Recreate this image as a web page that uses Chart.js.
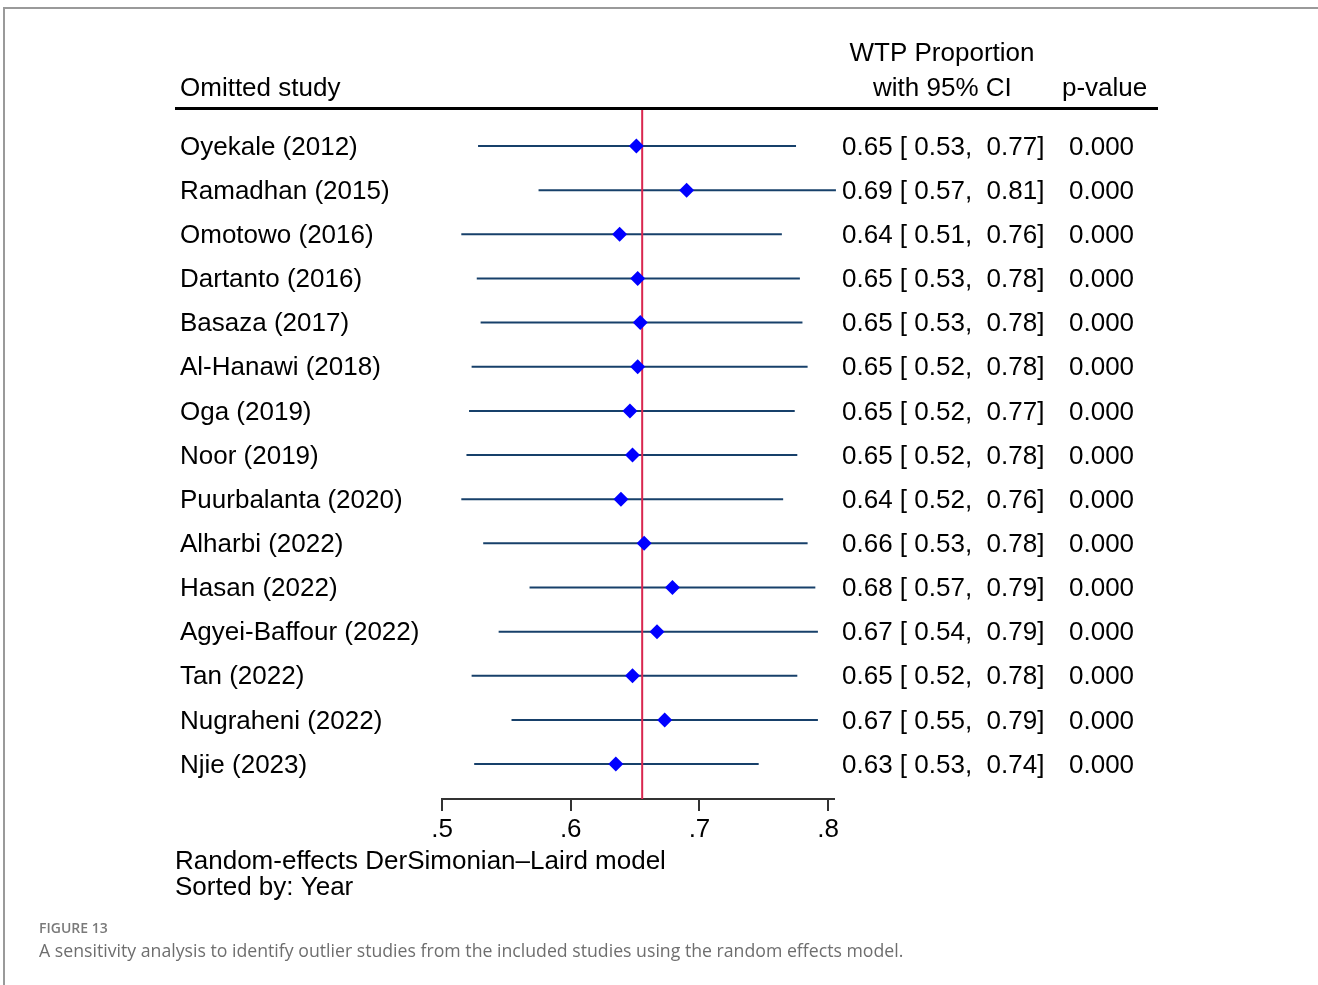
<!DOCTYPE html>
<html>
<head>
<meta charset="utf-8">
<script src="https://cdn.jsdelivr.net/npm/chart.js@4.4.1/dist/chart.umd.min.js"></script>
<style>
  html, body { margin: 0; padding: 0; background: #fff; }
  #wrap { position: relative; width: 1318px; height: 985px; }
  canvas { display: block; }
</style>
</head>
<body>
<div id="wrap"><canvas id="chart" width="1318" height="985"></canvas></div>
<script>
const studies = [
  'Oyekale (2012)', 'Ramadhan (2015)', 'Omotowo (2016)', 'Dartanto (2016)',
  'Basaza (2017)', 'Al-Hanawi (2018)', 'Oga (2019)', 'Noor (2019)',
  'Puurbalanta (2020)', 'Alharbi (2022)', 'Hasan (2022)', 'Agyei-Baffour (2022)',
  'Tan (2022)', 'Nugraheni (2022)', 'Njie (2023)'
];
// point estimates and CI ends
const estimate = [0.651, 0.690, 0.638, 0.652, 0.654, 0.652, 0.646, 0.648, 0.639, 0.657, 0.679, 0.667, 0.648, 0.673, 0.635];
const lower = [0.528, 0.575, 0.515, 0.527, 0.530, 0.523, 0.521, 0.519, 0.515, 0.532, 0.568, 0.544, 0.523, 0.554, 0.525];
const upper = [0.775, 0.806, 0.764, 0.778, 0.780, 0.784, 0.774, 0.776, 0.765, 0.784, 0.790, 0.792, 0.776, 0.792, 0.746];
// printed table columns
const ciText = [
  '0.65 [ 0.53,  0.77]', '0.69 [ 0.57,  0.81]', '0.64 [ 0.51,  0.76]', '0.65 [ 0.53,  0.78]',
  '0.65 [ 0.53,  0.78]', '0.65 [ 0.52,  0.78]', '0.65 [ 0.52,  0.77]', '0.65 [ 0.52,  0.78]',
  '0.64 [ 0.52,  0.76]', '0.66 [ 0.53,  0.78]', '0.68 [ 0.57,  0.79]', '0.67 [ 0.54,  0.79]',
  '0.65 [ 0.52,  0.78]', '0.67 [ 0.55,  0.79]', '0.63 [ 0.53,  0.74]'
];
const pValues = ['0.000', '0.000', '0.000', '0.000', '0.000', '0.000', '0.000', '0.000',
  '0.000', '0.000', '0.000', '0.000', '0.000', '0.000', '0.000'];
const overall = 0.6555;
const xTicks = [0.5, 0.6, 0.7, 0.8];

const FONT = '"Liberation Sans", Arial, sans-serif';
const yMin = -0.86, yMax = 14.79;

const ciSets = studies.map((s, i) => ({
  type: 'line',
  label: s,
  data: [{ x: lower[i], y: i }, { x: upper[i], y: i }],
  borderColor: '#17406a',
  borderWidth: 2,
  pointRadius: 0,
  clip: false,
  order: 2
}));

const ctx = document.getElementById('chart').getContext('2d');

const tablePlugin = {
  id: 'table',
  beforeDraw(chart) {
    const c = chart.ctx;
    c.save();
    c.fillStyle = '#fff';
    c.fillRect(0, 0, chart.width, chart.height);
    // page frame
    c.strokeStyle = '#9a9a9a';
    c.lineWidth = 2;
    c.beginPath();
    c.moveTo(1318, 8); c.lineTo(4, 8); c.lineTo(4, 985);
    c.stroke();
    c.restore();
  },
  afterDraw(chart) {
    const c = chart.ctx;
    const ys = chart.scales.y;
    c.save();
    c.fillStyle = '#000';
    c.textBaseline = 'middle';
    c.font = '26px ' + FONT;
    c.textAlign = 'center';
    c.fillText('WTP Proportion', 942, 54);
    c.textAlign = 'left';
    c.fillText('with 95% CI', 873, 89);
    c.fillText('p-value', 1062, 89);
    c.fillText('Omitted study', 180, 89);
    // header rule
    c.fillRect(175, 107, 983, 3);
    studies.forEach((s, i) => {
      const y = ys.getPixelForValue(i) + 1.5;
      c.fillText(s, 180, y);
      c.fillText(ciText[i], 842, y);
      c.fillText(pValues[i], 1069, y);
    });
    c.fillText('Random-effects DerSimonian\u2013Laird model', 175, 862);
    c.fillText('Sorted by: Year', 175, 888);
    c.fillStyle = '#7a7a7a';
    c.font = '600 14px "Open Sans", sans-serif';
    c.fillText('FIGURE 13', 39, 929);
    c.fillStyle = '#6e6e6e';
    c.font = '17.7px "Open Sans", sans-serif';
    c.fillText('A sensitivity analysis to identify outlier studies from the included studies using the random effects model.', 39, 952);
    c.restore();
  }
};

new Chart(ctx, {
  type: 'scatter',
  data: {
    datasets: [
      ...ciSets,
      {
        type: 'line',
        label: 'overall',
        data: [{ x: overall, y: yMin }, { x: overall, y: yMax }],
        borderColor: '#d9264f',
        borderWidth: 2,
        pointRadius: 0,
        order: 1
      },
      {
        label: 'estimate',
        data: estimate.map((v, i) => ({ x: v, y: i })),
        pointStyle: 'rectRot',
        pointRadius: 7.5,
        backgroundColor: '#0000ff',
        borderColor: '#0000ff',
        borderWidth: 0,
        order: 0
      }
    ]
  },
  options: {
    responsive: false,
    animation: false,
    devicePixelRatio: 1,
    layout: { padding: { left: 442, right: 484, top: 108, bottom: 0 } },
    plugins: { legend: { display: false }, tooltip: { enabled: false } },
    scales: {
      x: {
        type: 'linear',
        min: 0.5,
        max: 0.8045,
        afterBuildTicks: (s) => { s.ticks = xTicks.map(v => ({ value: v })); },
        afterFit: (s) => { s.height = 985 - 799; },
        ticks: {
          color: '#000',
          font: { family: FONT, size: 26 },
          padding: 3,
          maxRotation: 0,
          callback: (v) => String(v).replace(/^0/, '')
        },
        grid: { drawOnChartArea: false, drawTicks: true, tickLength: 12, color: '#333', lineWidth: 2 },
        border: { display: true, color: '#333', width: 2 }
      },
      y: {
        type: 'linear',
        display: false,
        reverse: true,
        min: yMin,
        max: yMax
      }
    }
  },
  plugins: [tablePlugin]
});
</script>
</body>
</html>
